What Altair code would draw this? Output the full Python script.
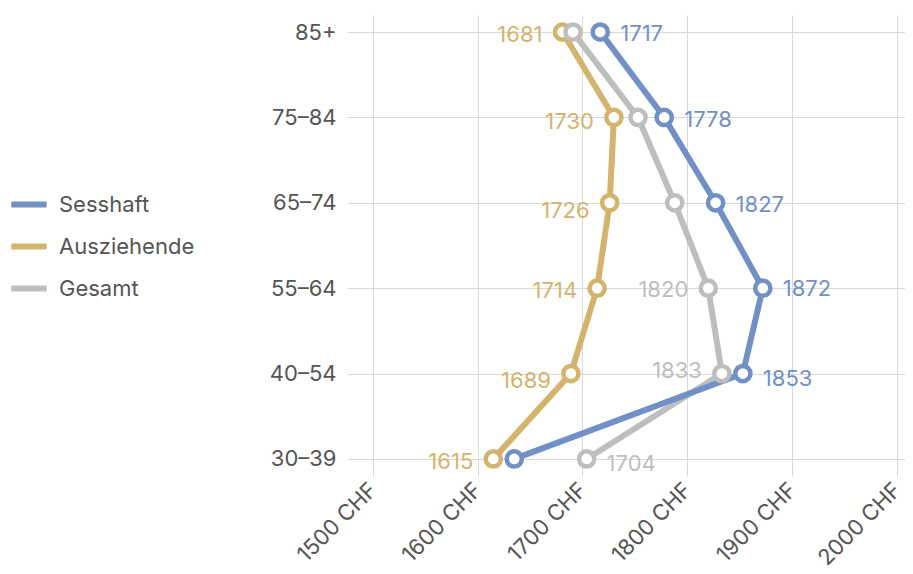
import altair as alt
import pandas as pd

ages = ["85+", "75–84", "65–74", "55–64", "40–54", "30–39"]
series_names = ["Sesshaft", "Ausziehende", "Gesamt"]
sesshaft = [1717, 1778, 1827, 1872, 1853, 1635]
ausziehende = [1681, 1730, 1726, 1714, 1689, 1615]
gesamt = [1691, 1753, 1788, 1820, 1833, 1704]
colors = ["#7190c5", "#d4b36d", "#bebebe"]
x_ticks = [1500, 1600, 1700, 1800, 1900, 2000]

# which points carry a value label, on which side, and its small vertical nudge
side_sesshaft = ["right", "right", "right", "right", "right", ""]
side_ausziehende = ["left", "left", "left", "left", "left", "left"]
side_gesamt = ["", "", "", "left", "left", "right"]
nudge_sesshaft = [2, 3, 2, 1, 5, 0]
nudge_ausziehende = [3, 5, 8, 3, 7, 3]
nudge_gesamt = [0, 0, 0, 2, -3, 5]

rows = []
for name, vals, sides, nudges in [("Gesamt", gesamt, side_gesamt, nudge_gesamt),
                                  ("Ausziehende", ausziehende, side_ausziehende, nudge_ausziehende),
                                  ("Sesshaft", sesshaft, side_sesshaft, nudge_sesshaft)]:
    for i, (a, v, s, n) in enumerate(zip(ages, vals, sides, nudges)):
        rows.append({"series": name, "age": a, "value": v, "idx": i, "side": s,
                     "nudge": n, "layer": series_names.index(name)})
df = pd.DataFrame(rows)

FONT = "Inter"
FS = 22
x_scale = alt.Scale(domain=[1475.5, 2007.6], nice=False, zero=False)
y_scale = alt.Scale(type="point", domain=ages, padding=0.2)
color_scale = alt.Scale(domain=series_names, range=colors)

base = alt.Chart(df)

x_enc = alt.X("value:Q", scale=x_scale, title=None,
              axis=alt.Axis(values=x_ticks, labelExpr="datum.value + ' CHF'",
                            labelAngle=-45, labelAlign="right", labelBaseline="middle",
                            labelFontSize=FS, labelColor="#555555", labelFont=FONT,
                            grid=True, gridColor="#d9d9d9", ticks=False,
                            domain=False, labelPadding=10))
y_enc = alt.Y("age:N", scale=y_scale, sort=ages, title=None,
              axis=alt.Axis(labelFontSize=FS, labelColor="#555555", labelFont=FONT,
                            grid=True, gridColor="#d9d9d9", ticks=False,
                            domain=False, labelPadding=11))

lines = base.mark_line(strokeWidth=6).encode(
    x=x_enc, y=y_enc,
    color=alt.Color("series:N", scale=color_scale, sort=series_names,
                    legend=alt.Legend(title=None, orient="none", legendX=-339, legendY=168.5,
                                      symbolType="stroke", symbolStrokeWidth=6,
                                      symbolSize=1250, labelFontSize=FS,
                                      labelColor="#555555", labelFont=FONT,
                                      labelOffset=9, rowPadding=9, padding=0)),
    order=alt.Order("idx:Q"),
    detail="series:N",
)

points = base.mark_point(filled=True, fill="white", size=230, strokeWidth=4.5, opacity=1).encode(
    x="value:Q", y=alt.Y("age:N", sort=ages),
    stroke=alt.Stroke("series:N", scale=color_scale, legend=None),
    order=alt.Order("layer:Q"),
)

lab_right = base.transform_filter("datum.side == 'right'").mark_text(
    align="left", baseline="middle", dx=20, fontSize=FS, font=FONT
).encode(
    x="value:Q", y=alt.Y("age:N", sort=ages), text="value:Q",
    yOffset=alt.YOffset("nudge:Q", scale=None),
    fill=alt.Fill("series:N", scale=color_scale, legend=None),
)
lab_left = base.transform_filter("datum.side == 'left'").mark_text(
    align="right", baseline="middle", dx=-20, fontSize=FS, font=FONT
).encode(
    x="value:Q", y=alt.Y("age:N", sort=ages), text="value:Q",
    yOffset=alt.YOffset("nudge:Q", scale=None),
    fill=alt.Fill("series:N", scale=color_scale, legend=None),
)

chart = alt.layer(lines, points, lab_right, lab_left).properties(
    width=558, height=461,
    padding={"left": 0, "top": 7, "right": 0, "bottom": 5},
).configure(font=FONT).configure_view(stroke="transparent", strokeWidth=0)

chart.save("out.html", embed_options={"renderer": "svg", "actions": False})
